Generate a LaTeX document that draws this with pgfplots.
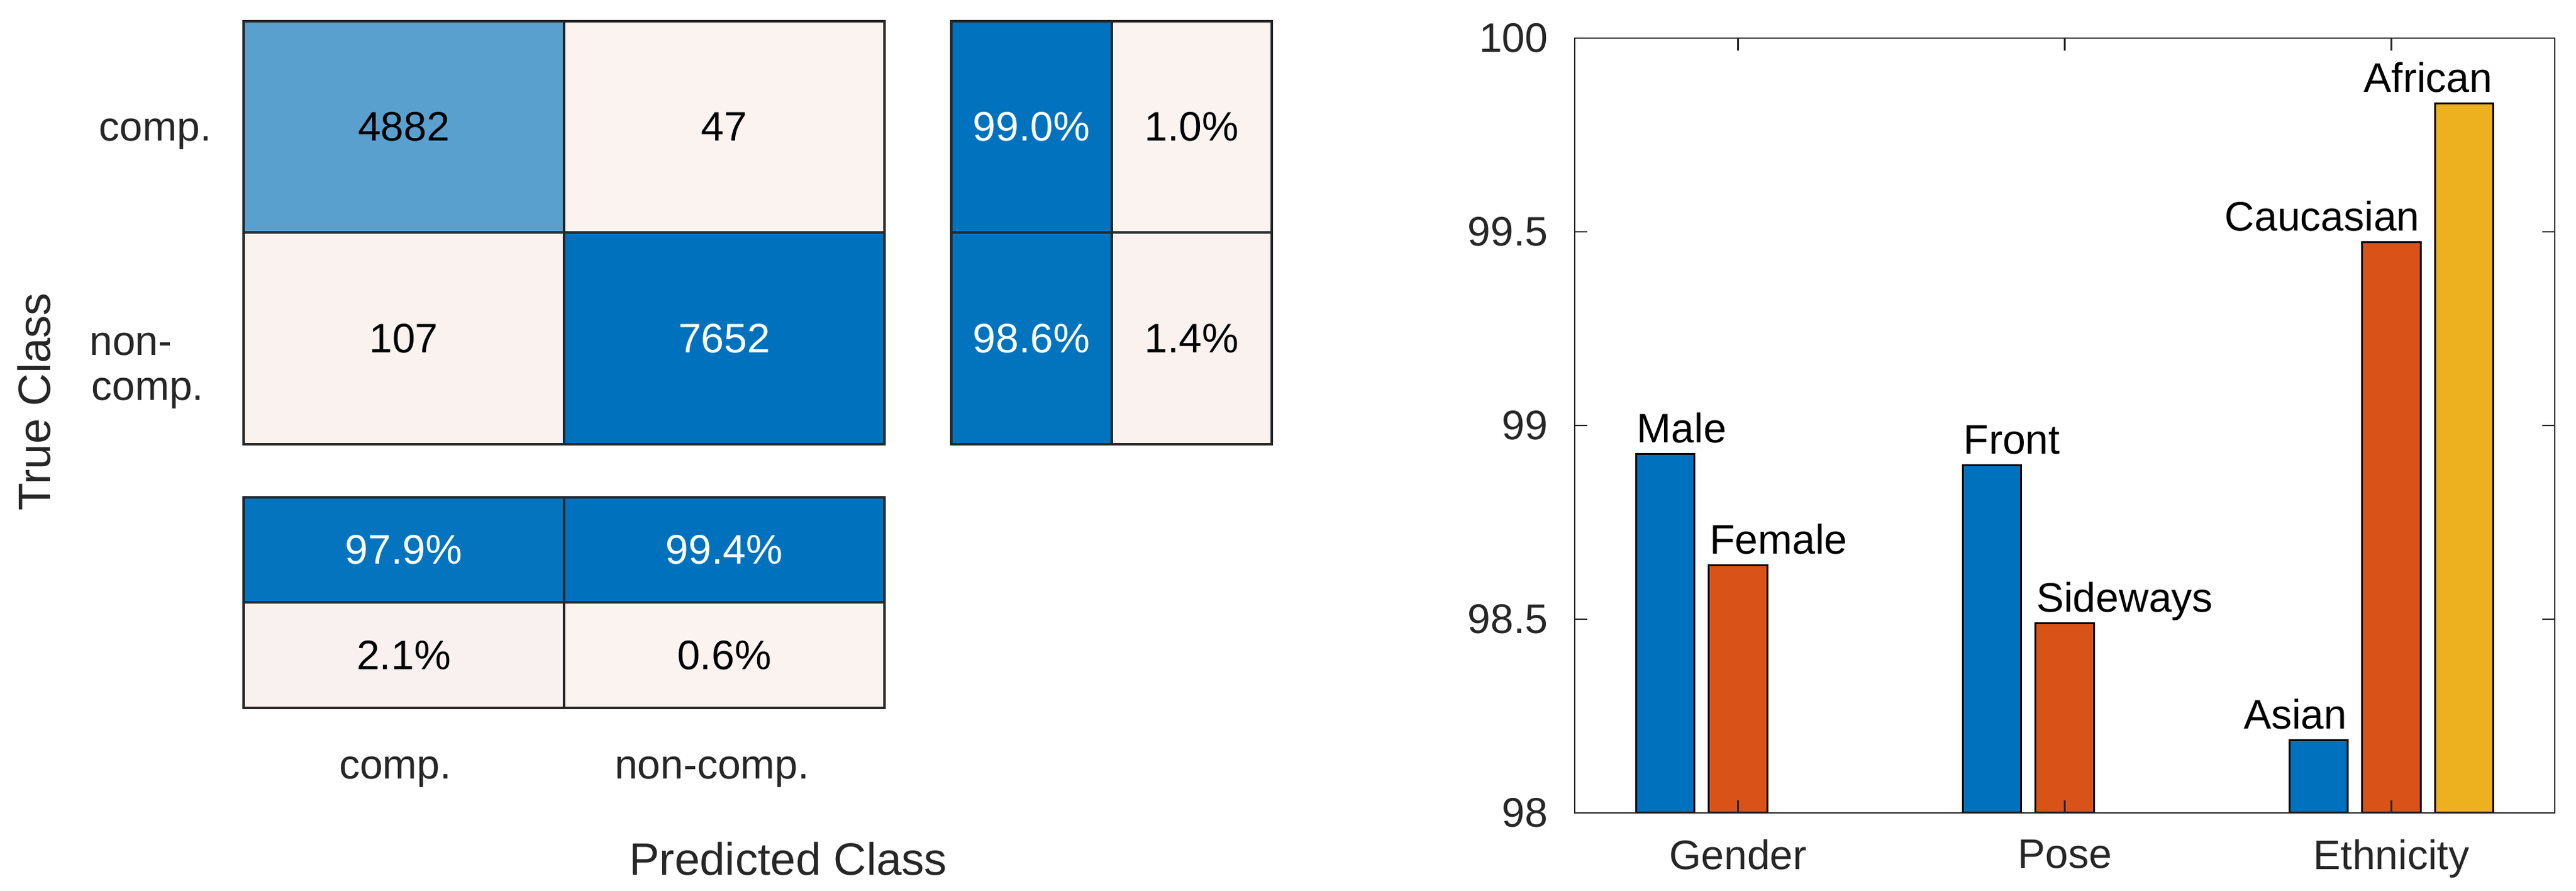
\documentclass[border=0pt]{standalone}
\usepackage{fontspec}
\setmainfont{Liberation Sans}
\usepackage{pgfplots}
\pgfplotsset{compat=1.18}
\definecolor{edge}{RGB}{38,38,38}
\definecolor{cblue}{RGB}{0,114,189}
\definecolor{corange}{RGB}{217,83,25}
\definecolor{cyellow}{RGB}{237,177,32}
\newcommand{\fs}{\fontsize{9.9pt}{11.9pt}\selectfont}
\newcommand{\fl}{\fontsize{10.9pt}{13pt}\selectfont}
\pgfplotsset{
  cm/.style={
    scale only axis, anchor=south west,
    y dir=reverse, xmin=-0.5, xmax=1.5, ymin=-0.5, ymax=1.5,
    xtick=\empty, ytick=\empty,
    axis line style={draw=edge, line width=0.6pt},
    colormap={cmap}{rgb255=(253,244,240) rgb255=(0,114,189)},
    axis on top,
  },
  cell/.style={matrix plot*, mesh/cols=2, point meta=explicit},
  sep/.style={draw=edge, line width=0.6pt, forget plot},
}
\newcommand{\cellgrid}{%
  \addplot[sep] coordinates {(0.5,-0.5) (0.5,1.5)};
  \addplot[sep] coordinates {(-0.5,0.5) (1.5,0.5)};
}
\begin{document}
\begin{tikzpicture}
\useasboundingbox (0,0) rectangle (618.6pt,213.9pt);

% counts
\begin{axis}[cm, at={(58.5pt,107.25pt)}, width=153.9pt, height=101.55pt,
  point meta min=0, point meta max=7652]
\addplot[cell] table[meta=c] {
x y c
0 0 4882
1 0 47
0 1 107
1 1 7652
};
\cellgrid
\node[font=\fs, text=black] at (axis cs:0,0) {4882};
\node[font=\fs, text=black] at (axis cs:1,0) {47};
\node[font=\fs, text=black] at (axis cs:0,1) {107};
\node[font=\fs, text=white] at (axis cs:1,1) {7652};
\end{axis}

% row summary
\begin{axis}[cm, at={(228.45pt,107.25pt)}, width=76.95pt, height=101.55pt,
  point meta min=0, point meta max=100]
\addplot[cell] table[meta=c] {
x y c
0 0 99.0
1 0 1.0
0 1 98.6
1 1 1.4
};
\cellgrid
\node[font=\fs, text=white] at (axis cs:0,0) {99.0\%};
\node[font=\fs, text=black] at (axis cs:1,0) {1.0\%};
\node[font=\fs, text=white] at (axis cs:0,1) {98.6\%};
\node[font=\fs, text=black] at (axis cs:1,1) {1.4\%};
\end{axis}

% column summary
\begin{axis}[cm, at={(58.5pt,43.95pt)}, width=153.9pt, height=50.55pt,
  point meta min=0, point meta max=100]
\addplot[cell] table[meta=c] {
x y c
0 0 97.9
1 0 99.4
0 1 2.1
1 1 0.6
};
\cellgrid
\node[font=\fs, text=white] at (axis cs:0,0) {97.9\%};
\node[font=\fs, text=white] at (axis cs:1,0) {99.4\%};
\node[font=\fs, text=black] at (axis cs:0,1) {2.1\%};
\node[font=\fs, text=black] at (axis cs:1,1) {0.6\%};
\end{axis}

% labels of the confusion chart (pixel coordinates of the reference)
\begin{scope}[x=0.15pt, y=-0.15pt, shift={(0pt,213.9pt)},
  every node/.style={inner sep=0pt, text=edge}]
\node[font=\fs, anchor=base east] at (340,226) {comp.};
\node[font=\fs, anchor=base west] at (142,569) {non-};
\node[font=\fs, anchor=base west] at (145,641) {comp.};
\node[font=\fs, anchor=base] at (633,1247) {comp.};
\node[font=\fs, anchor=base] at (1140,1247) {non-comp.};
\node[font=\fl, anchor=base] at (1262,1401) {Predicted Class};
\node[font=\fl, anchor=base, rotate=90] at (81,643) {True Class};
\end{scope}

% bar chart
\begin{axis}[at={(378.15pt,18.75pt)}, anchor=south west, scale only axis,
  width=235.35pt, height=186pt,
  xmin=0.5, xmax=3.5, ymin=98, ymax=100,
  xtick={1,2,3}, xticklabels={Gender,Pose,Ethnicity},
  ytick={98,98.5,99,99.5,100},
  /pgf/number format/assume math mode=true,
  tick align=inside, tick pos=both, major tick length=3pt,
  axis line style={draw=edge, line width=0.4pt},
  tick style={draw=edge, line width=0.4pt},
  ticklabel style={font=\fs, text=edge},
  xticklabel style={inner sep=0pt, yshift=-6.2pt},
  yticklabel style={inner sep=0pt, xshift=-6.2pt},
  axis on top,
]
\addplot[ybar, bar width=0.178, bar shift=-0.2225, fill=cblue, draw=black, line width=0.45pt]
  coordinates {(1,98.927) (2,98.897) (3,98.188)};
\addplot[ybar, bar width=0.178, bar shift=0, fill=corange, draw=black, line width=0.45pt]
  coordinates {(1,98.640) (2,98.489) (3,99.473)};
\addplot[ybar, bar width=0.178, bar shift=0.2225, fill=cyellow, draw=black, line width=0.45pt]
  coordinates {(3,99.831)};
\begin{scope}[every node/.style={font=\fs, inner sep=0pt, yshift=2.7pt}]
\node[anchor=base west] at (axis cs:0.6885,98.927) {Male};
\node[anchor=base west] at (axis cs:0.911,98.640) {Female};
\node[anchor=base west] at (axis cs:1.6885,98.897) {Front};
\node[anchor=base west] at (axis cs:1.911,98.489) {Sideways};
\node[anchor=base east] at (axis cs:2.8665,98.188) {Asian};
\node[anchor=base east] at (axis cs:3.089,99.473) {Caucasian};
\node[anchor=base east] at (axis cs:3.3115,99.831) {African};
\end{scope}
\end{axis}
\end{tikzpicture}
\end{document}
